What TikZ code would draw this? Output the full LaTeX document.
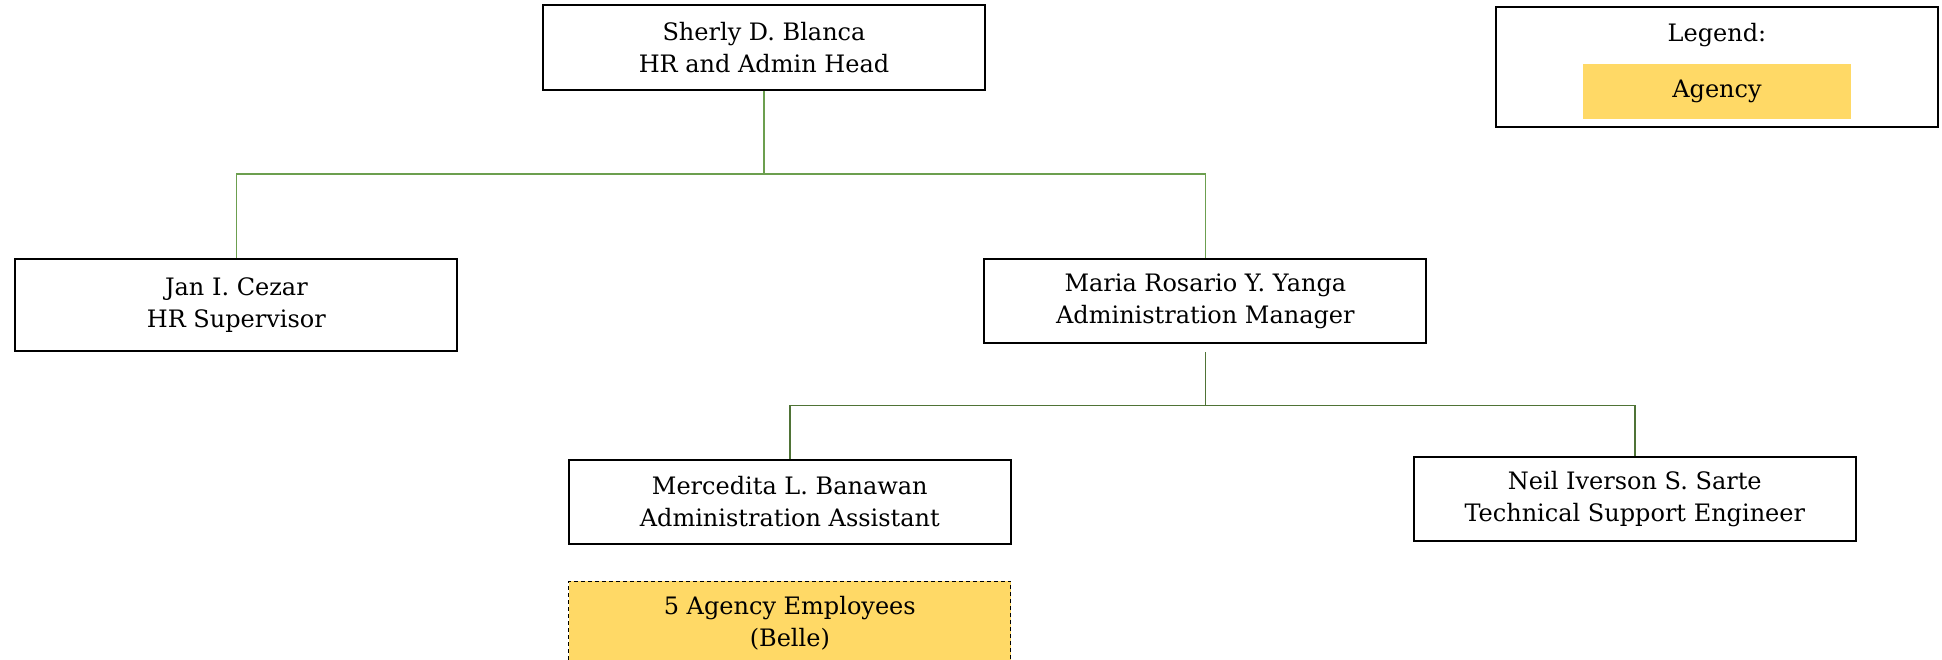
\documentclass[tikz,border=0pt]{standalone}
\usepackage{fontspec}
\setmainfont{DejaVu Serif}
\usetikzlibrary{positioning}
\definecolor{linkgreen}{HTML}{6C9F4F}
\definecolor{linkdark}{HTML}{4F7336}
\definecolor{agencyyellow}{HTML}{FFD966}

\begin{document}
\begin{tikzpicture}
\tikzstyle{person}=[rectangle, draw=black, line width=1pt, align=center, minimum width=221pt, minimum height=42pt, font=\fontsize{12}{16}\selectfont]
\tikzstyle{agency}=[person, line width=0.6pt, dash pattern=on 2pt off 1.5pt, fill=agencyyellow]
\tikzstyle{connect}=[draw=linkgreen, line width=0.7pt]
\tikzstyle{legendbox}=[rectangle, draw=black, line width=1pt, minimum width=221pt, minimum height=60pt]
\useasboundingbox (0,0) rectangle (971pt,-329.5pt);
  \node[person, minimum height=42.5pt] (head) at (382pt,-23.75pt) {Sherly D. Blanca\\HR and Admin Head};
  \node[person, minimum height=46pt] (jan) [below left =83.6pt and 41.8pt of head] {Jan I. Cezar\\HR Supervisor};
  \node[person] (maria) [below right =83.6pt and -1.3pt of head] {Maria Rosario Y. Yanga\\Administration Manager};
  \node[person] (merc) [below left =57.2pt and -14.2pt of maria] {Mercedita L. Banawan\\Administration Assistant};
  \node[person] (neil) [below right =55.8pt and -7.3pt of maria] {Neil Iverson S. Sarte\\Technical Support Engineer};
  \node[agency] (staff) [below =18pt of merc] {5 Agency Employees\\(Belle)};
  \node[legendbox] (legend) at (858.5pt,-33.5pt) {};
  \node[font=\fontsize{12}{16}\selectfont, yshift=-14.7pt] (legtitle) at (legend.north) {Legend:};
  \node[fill=agencyyellow, minimum width=134.2pt, minimum height=27.4pt, font=\fontsize{12}{16}\selectfont, yshift=-12.2pt] (legkey) at (legend) {Agency};
  \coordinate (headbus) at ([yshift=-41.5pt]head.south);
  \coordinate (mariabus) at ([yshift=-30.6pt]maria.south);
  \draw[connect] (head.south) -- (headbus);
  \draw[connect] (jan.north) |- (headbus) -| (maria.north);
  \draw[connect, draw=linkdark, shorten <=4pt] (maria.south) -- (mariabus);
  \draw[connect, draw=linkdark] (merc.north) |- (mariabus) -| (neil.north);
\end{tikzpicture}
\end{document}
